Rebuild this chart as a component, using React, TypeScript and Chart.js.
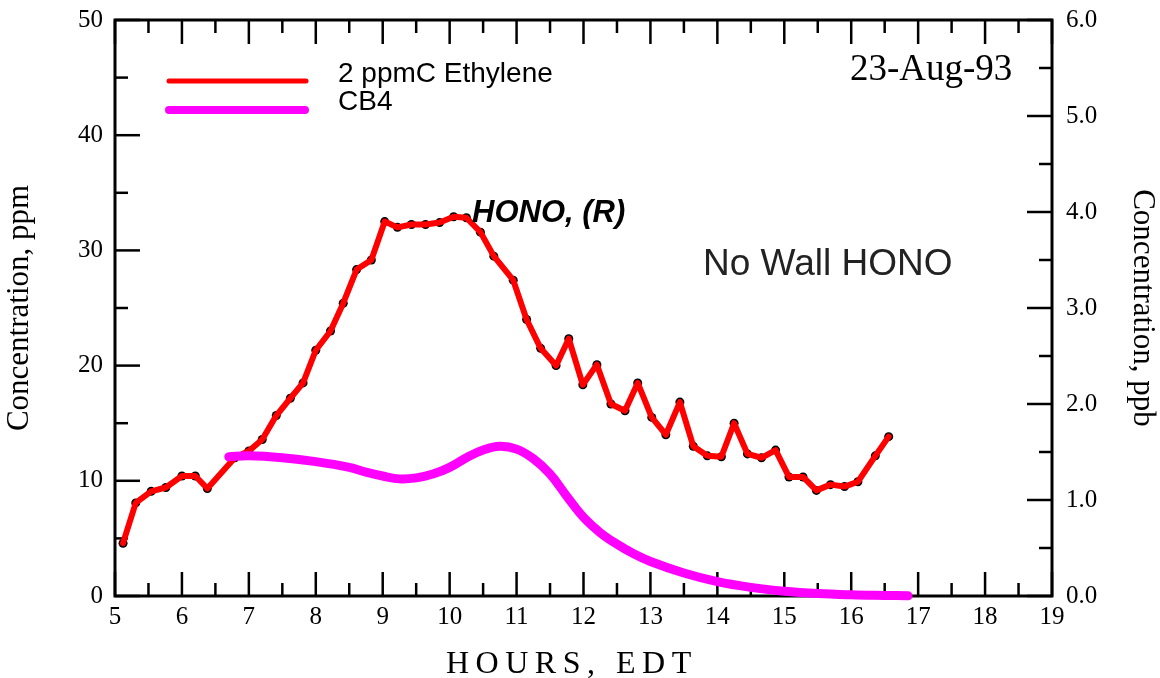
import React, { useEffect, useRef } from "react";
import { Chart, registerables } from "chart.js";

Chart.register(...registerables);

// ---- Data ----
const HONO_HOURS = [
  5.12, 5.31, 5.54, 5.76, 6.0, 6.2, 6.38, 6.79, 7.0, 7.2, 7.41, 7.62, 7.81, 8.0,
  8.22, 8.41, 8.61, 8.83, 9.03, 9.22, 9.43, 9.64, 9.85, 10.06, 10.25, 10.46,
  10.66, 10.95, 11.15, 11.36, 11.59, 11.78, 11.99, 12.2, 12.41, 12.62, 12.81,
  13.02, 13.23, 13.44, 13.64, 13.85, 14.06, 14.25, 14.45, 14.66, 14.87, 15.07,
  15.28, 15.48, 15.69, 15.9, 16.1, 16.36, 16.56,
];
const HONO_PPB = [
  0.55, 0.97, 1.09, 1.13, 1.25, 1.25, 1.12, 1.44, 1.51, 1.63, 1.88, 2.06, 2.22,
  2.56, 2.76, 3.05, 3.4, 3.5, 3.9, 3.84, 3.87, 3.87, 3.89, 3.95, 3.94, 3.79,
  3.54, 3.29, 2.88, 2.58, 2.4, 2.68, 2.2, 2.41, 2.0, 1.93, 2.22, 1.86, 1.68,
  2.02, 1.56, 1.46, 1.45, 1.8, 1.48, 1.44, 1.52, 1.24, 1.24, 1.1, 1.16, 1.14,
  1.19, 1.46, 1.66,
];
const CB4_HOURS = [
  6.7, 7.0, 7.5, 8.0, 8.5, 8.75, 9.0, 9.25, 9.5, 9.75, 10.0, 10.25, 10.5, 10.75,
  11.0, 11.25, 11.5, 11.75, 12.0, 12.25, 12.5, 12.75, 13.0, 13.5, 14.0, 14.5,
  15.0, 15.5, 16.0, 16.5, 16.85,
];
const CB4_PPB = [
  1.45, 1.46, 1.44, 1.4, 1.34, 1.29, 1.25, 1.22, 1.23, 1.27, 1.34, 1.44, 1.52,
  1.56, 1.53, 1.43, 1.27, 1.04, 0.82, 0.66, 0.54, 0.44, 0.36, 0.24, 0.15, 0.09,
  0.05, 0.026, 0.013, 0.006, 0.002,
];

const X_TICKS = [5, 19];
const PPM_TICKS = [0, 50];
const PPB_TICKS = [0, 6];

const LEGEND_LABELS = ["2 ppmC Ethylene", "CB4"];
const X_TITLE = "HOURS, EDT";
const Y_LEFT_TITLE = "Concentration, ppm";
const Y_RIGHT_TITLE = "Concentration, ppb";
const DATE_LABEL = "23-Aug-93";
const NOTE_LABEL = "No Wall HONO";
const SERIES_LABEL = "HONO, (R)";

const RED = "#ff0000";
const MAGENTA = "#ff00ff";
const SERIF = "'Liberation Serif', 'Times New Roman', serif";
const SANS = "'Liberation Sans', Arial, sans-serif";

const decorPlugin = {
  id: "decor",
  beforeDatasetsDraw(chart: any) {
    const { ctx, chartArea: a, scales } = chart;
    const line = (x1: number, y1: number, x2: number, y2: number) => {
      ctx.beginPath();
      ctx.moveTo(x1, y1);
      ctx.lineTo(x2, y2);
      ctx.stroke();
    };
    ctx.save();
    ctx.strokeStyle = "#000";
    ctx.lineWidth = 2.5;
    const sx = scales.x;
    for (let v = X_TICKS[0]; v <= X_TICKS[1] + 1e-6; v += 0.5) {
      const px = sx.getPixelForValue(v);
      const major = Math.abs(v - Math.round(v)) < 1e-6;
      const len = major ? 24 : 13;
      line(px, a.bottom, px, a.bottom - len);
      line(px, a.top, px, a.top + len);
    }
    const yl = scales.y;
    for (let v = PPM_TICKS[0]; v <= PPM_TICKS[1] + 1e-6; v += 5) {
      const py = yl.getPixelForValue(v);
      const major = Math.abs(v / 10 - Math.round(v / 10)) < 1e-6;
      line(a.left, py, a.left + (major ? 25 : 13), py);
    }
    const yr = scales.y2;
    for (let v = PPB_TICKS[0]; v <= PPB_TICKS[1] + 1e-6; v += 0.5) {
      const py = yr.getPixelForValue(v);
      const major = Math.abs(v - Math.round(v)) < 1e-6;
      line(a.right, py, a.right - (major ? 25 : 13), py);
    }
    ctx.lineWidth = 3;
    ctx.strokeRect(a.left, a.top, a.right - a.left, a.bottom - a.top);
    ctx.restore();
  },
  afterDraw(chart: any) {
    const { ctx } = chart;
    ctx.save();
    // legend
    ctx.lineCap = "round";
    ctx.strokeStyle = RED;
    ctx.lineWidth = 5;
    ctx.beginPath();
    ctx.moveTo(169, 81);
    ctx.lineTo(306, 81);
    ctx.stroke();
    ctx.strokeStyle = MAGENTA;
    ctx.lineWidth = 8;
    ctx.beginPath();
    ctx.moveTo(169, 110);
    ctx.lineTo(305, 110);
    ctx.stroke();
    ctx.fillStyle = "#000";
    ctx.textAlign = "left";
    ctx.textBaseline = "alphabetic";
    ctx.font = `28px ${SANS}`;
    ctx.fillText(LEGEND_LABELS[0], 338, 82);
    ctx.fillText(LEGEND_LABELS[1], 338, 110);
    // annotations
    ctx.font = `37px ${SERIF}`;
    ctx.fillText(DATE_LABEL, 850, 80);
    ctx.fillStyle = "#222";
    ctx.font = `37px ${SANS}`;
    ctx.fillText(NOTE_LABEL, 703, 275);
    ctx.fillStyle = "#000";
    ctx.font = `italic bold 31px ${SANS}`;
    ctx.fillText(SERIES_LABEL, 472, 222);
    // x title with letter spacing
    ctx.font = `32px ${SERIF}`;
    (ctx as any).letterSpacing = "6.5px";
    ctx.fillText(X_TITLE, 446, 673);
    (ctx as any).letterSpacing = "0px";
    ctx.restore();
  },
};

export default function App() {
  const ref = useRef<HTMLCanvasElement | null>(null);

  useEffect(() => {
    document.body.style.margin = "0";
    const canvas = ref.current;
    if (!canvas) return;
    const honoPts = HONO_HOURS.map((h, i) => ({ x: h, y: HONO_PPB[i] }));
    const cb4Pts = CB4_HOURS.map((h, i) => ({ x: h, y: CB4_PPB[i] }));

    const chart = new Chart(canvas, {
      type: "line",
      data: {
        datasets: [
          {
            label: "CB4",
            data: cb4Pts,
            yAxisID: "y2",
            borderColor: MAGENTA,
            backgroundColor: MAGENTA,
            borderWidth: 9,
            borderCapStyle: "round",
            borderJoinStyle: "round",
            pointRadius: 0,
            tension: 0.4,
            clip: false,
            order: 0,
          },
          {
            label: LEGEND_LABELS[0],
            data: honoPts,
            yAxisID: "y2",
            borderColor: RED,
            backgroundColor: RED,
            borderWidth: 6,
            borderCapStyle: "round",
            borderJoinStyle: "round",
            pointRadius: 0,
            tension: 0,
            clip: false,
            order: 1,
          },
          {
            label: "points",
            data: honoPts,
            yAxisID: "y2",
            showLine: false,
            pointRadius: 4.5,
            pointBackgroundColor: "#000",
            pointBorderWidth: 0,
            clip: false,
            order: 2,
          },
        ] as any,
      },
      options: {
        animation: false,
        responsive: false,
        devicePixelRatio: 1,
        layout: { padding: { top: 20, left: 0, right: 0, bottom: 0 } },
        plugins: {
          legend: { display: false },
          tooltip: { enabled: false },
        },
        scales: {
          x: {
            type: "linear",
            min: X_TICKS[0],
            max: X_TICKS[1],
            grid: { display: false, drawTicks: false },
            border: { display: false },
            ticks: {
              stepSize: 1,
              padding: 6,
              color: "#000",
              font: { family: SERIF, size: 25 },
              maxRotation: 0,
              callback: (v: any) => String(v),
            },
            afterFit: (s: any) => {
              s.height = 82;
              s.paddingLeft = 0;
              s.paddingRight = 0;
            },
          },
          y: {
            type: "linear",
            position: "left",
            min: PPM_TICKS[0],
            max: PPM_TICKS[1],
            grid: { display: false, drawTicks: false },
            border: { display: false },
            ticks: {
              stepSize: 10,
              padding: 12,
              color: "#000",
              font: { family: SERIF, size: 25 },
              callback: (v: any) => String(v),
            },
            title: {
              display: true,
              text: Y_LEFT_TITLE,
              color: "#000",
              font: { family: SERIF, size: 31, lineHeight: 1 },
              padding: { top: 4, bottom: 0 },
            },
            afterFit: (s: any) => {
              s.width = 115;
              s.paddingTop = 0;
              s.paddingBottom = 0;
            },
          },
          y2: {
            type: "linear",
            position: "right",
            min: PPB_TICKS[0],
            max: PPB_TICKS[1],
            grid: { display: false, drawTicks: false },
            border: { display: false },
            ticks: {
              stepSize: 1,
              padding: 14,
              color: "#000",
              font: { family: SERIF, size: 25 },
              callback: (v: any) => Number(v).toFixed(1),
            },
            title: {
              display: true,
              text: Y_RIGHT_TITLE,
              color: "#000",
              font: { family: SERIF, size: 31, lineHeight: 1 },
              padding: { top: 2, bottom: 0 },
            },
            afterFit: (s: any) => {
              s.width = 108;
              s.paddingTop = 0;
              s.paddingBottom = 0;
            },
          },
        },
      } as any,
      plugins: [decorPlugin],
    });
    return () => chart.destroy();
  }, []);

  return (
    <div style={{ position: "absolute", left: 0, top: 0, width: 1160, height: 678, background: "#fff" }}>
      <canvas ref={ref} width={1160} height={678} />
    </div>
  );
}
